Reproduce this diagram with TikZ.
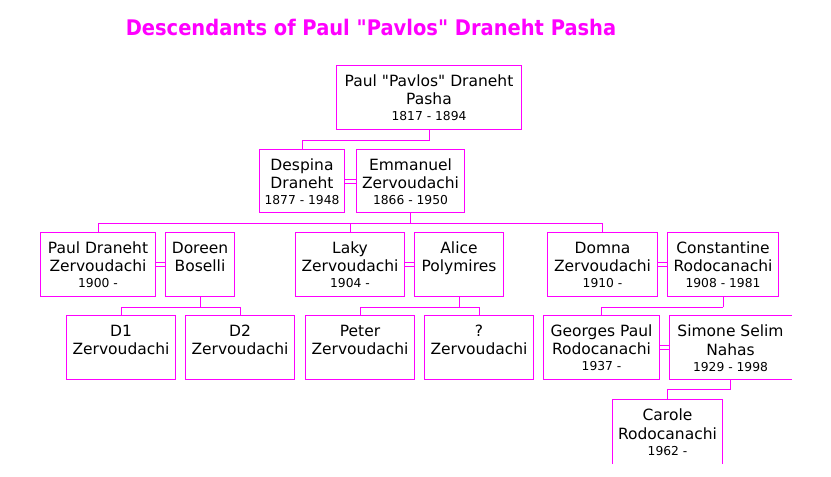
\documentclass[tikz,border=0pt]{standalone}
\usepackage{fontspec}
\setmainfont{DejaVu Sans}[Ligatures=TeXOff]
\usetikzlibrary{fit}
\definecolor{mag}{HTML}{FF00FF}
\newcommand{\datefont}{\fontsize{12.3}{14}\selectfont}
\newcommand{\fs}{\rule{0pt}{14pt}}
\begin{document}
\begin{tikzpicture}[x=1pt,y=-1pt,
  pbox/.style={draw=mag, line width=1pt, inner sep=0pt},
  obox/.style={inner sep=0pt},
  conn/.style={draw=mag, line width=1pt},
  txt/.style={font=\fontsize{15.5}{18.5}\selectfont, align=center, inner sep=0pt, anchor=north, text=black},
  titlestyle/.style={font=\fontsize{21.5}{24}\selectfont\bfseries, text=mag, inner sep=0pt, anchor=base}]
\useasboundingbox (0,0) rectangle (831,477);
\fill[white] (0,0) rectangle (831,477);

\node[titlestyle] (title) at (371,35.5) {\scalebox{0.905}[1]{Descendants of Paul "Pavlos" Draneht Pasha}};

% boxes
\node[pbox, fit={(336.5,65.5) (521.5,129.5)}] (paul) {};
\node[pbox, fit={(259.5,149.5) (344.5,212.5)}] (despina) {};
\node[pbox, fit={(356.5,149.5) (464.5,212.5)}] (emmanuel) {};
\node[pbox, fit={(40.5,232.5) (155.5,296.5)}] (pauld) {};
\node[pbox, fit={(165.5,232.5) (234.5,296.5)}] (doreen) {};
\node[pbox, fit={(295.5,232.5) (404.5,296.5)}] (laky) {};
\node[pbox, fit={(414.5,232.5) (503.5,296.5)}] (alice) {};
\node[pbox, fit={(547.5,232.5) (657.5,296.5)}] (domna) {};
\node[pbox, fit={(667.5,232.5) (778.5,296.5)}] (constantine) {};
\node[pbox, fit={(66.5,315.5) (175.5,379.5)}] (d1) {};
\node[pbox, fit={(185.5,315.5) (294.5,379.5)}] (d2) {};
\node[pbox, fit={(305.5,315.5) (414.5,379.5)}] (peter) {};
\node[pbox, fit={(424.5,315.5) (533.5,379.5)}] (unk) {};
\node[pbox, fit={(543.5,315.5) (659.5,379.5)}] (georges) {};
\node[obox, fit={(669.5,315.5) (791.5,379.5)}] (simone) {};
\node[obox, fit={(612.5,399.5) (722.5,463.5)}] (carole) {};
\draw[conn] (simone.north east) -- (simone.north west) -- (simone.south west) -- (simone.south east);
\draw[conn] (carole.south west) -- (carole.north west) -- (carole.north east) -- (carole.south east);

% texts
\node[txt] (paul-t) at ([yshift=-7pt]paul.north) {\fs Paul "Pavlos" Draneht\\Pasha\\[-2.5pt]{\datefont 1817 - 1894}};
\node[txt] (despina-t) at ([yshift=-7pt]despina.north) {\fs Despina\\Draneht\\[-2.5pt]{\datefont 1877 - 1948}};
\node[txt] (emmanuel-t) at ([yshift=-7pt]emmanuel.north) {\fs Emmanuel\\Zervoudachi\\[-2.5pt]{\datefont 1866 - 1950}};
\node[txt] (pauld-t) at ([yshift=-7pt]pauld.north) {\fs Paul Draneht\\Zervoudachi\\[-2.5pt]{\datefont 1900 -}};
\node[txt] (doreen-t) at ([yshift=-7pt]doreen.north) {\fs Doreen\\Boselli};
\node[txt] (laky-t) at ([yshift=-7pt]laky.north) {\fs Laky\\Zervoudachi\\[-2.5pt]{\datefont 1904 -}};
\node[txt] (alice-t) at ([yshift=-7pt]alice.north) {\fs Alice\\Polymires};
\node[txt] (domna-t) at ([yshift=-7pt]domna.north) {\fs Domna\\Zervoudachi\\[-2.5pt]{\datefont 1910 -}};
\node[txt] (constantine-t) at ([yshift=-7pt]constantine.north) {\fs Constantine\\Rodocanachi\\[-2.5pt]{\datefont 1908 - 1981}};
\node[txt] (d1-t) at ([yshift=-7pt]d1.north) {\fs D1\\Zervoudachi};
\node[txt] (d2-t) at ([yshift=-7pt]d2.north) {\fs D2\\Zervoudachi};
\node[txt] (peter-t) at ([yshift=-7pt]peter.north) {\fs Peter\\Zervoudachi};
\node[txt] (unk-t) at ([yshift=-7pt]unk.north) {\fs ?\\Zervoudachi};
\node[txt] (georges-t) at ([yshift=-7pt]georges.north) {\fs Georges Paul\\Rodocanachi\\[-2.5pt]{\datefont 1937 -}};
\node[txt] (simone-t) at ([yshift=-7pt]simone.north) {\fs Simone Selim\\Nahas\\[-2.5pt]{\datefont 1929 - 1998}};
\node[txt] (carole-t) at ([yshift=-7pt]carole.north) {\fs Carole\\Rodocanachi\\[-2.5pt]{\datefont 1962 -}};

% marriages
\foreach \a/\b in {despina/emmanuel, pauld/doreen, laky/alice, domna/constantine, georges/simone}{
  \draw[conn] ([yshift=2pt]\a.east) -- ([yshift=2pt]\b.west);
  \draw[conn] ([yshift=-2pt]\a.east) -- ([yshift=-2pt]\b.west);
}

% descent
\draw[conn] (paul.south) -- ++(0,10) -| (despina.north);
\coordinate (bar1) at ([yshift=-10pt]emmanuel.south);
\draw[conn] (emmanuel.south) -- (bar1);
\draw[conn] (pauld.north) |- (bar1);
\draw[conn] (domna.north) |- (bar1);
\draw[conn] (laky.north) -- (laky.north |- bar1);

\coordinate (bar2) at ([yshift=-10pt]doreen.south);
\draw[conn] (doreen.south) -- (bar2);
\draw[conn] (d1.north) |- (bar2);
\draw[conn] (d2.north) |- (bar2);

\coordinate (bar3) at ([yshift=-10pt]alice.south);
\draw[conn] (alice.south) -- (bar3);
\draw[conn] (peter.north) |- (bar3);
\draw[conn] (unk.north) |- (bar3);

\coordinate (bar4) at ([yshift=-10pt]constantine.south);
\draw[conn] (constantine.south) -- (bar4);
\draw[conn] (georges.north) |- (bar4);

\coordinate (bar5) at ([yshift=-10pt]simone.south);
\draw[conn] (simone.south) -- (bar5);
\draw[conn] (carole.north) |- (bar5);
\end{tikzpicture}
\end{document}
